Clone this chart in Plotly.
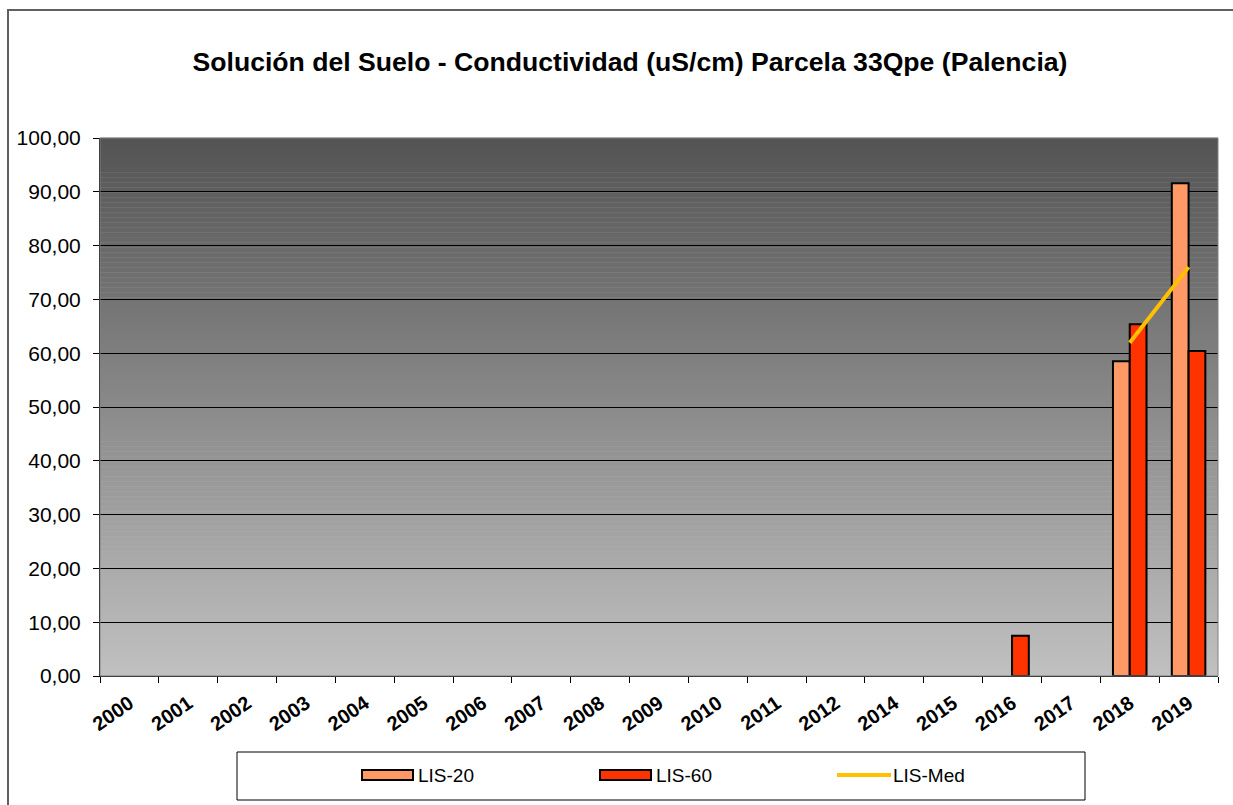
import plotly.graph_objects as go

# Sampling years (2013 has no campaign)
years = ["2000", "2001", "2002", "2003", "2004", "2005", "2006", "2007", "2008",
         "2009", "2010", "2011", "2012", "2014", "2015", "2016", "2017", "2018", "2019"]

# Conductivity (uS/cm) per depth
lis_20 = [None] * 17 + [58.5, 91.6]
lis_60 = [None] * 15 + [7.5, None, 65.4, 60.4]
lis_med = [None] * 17 + [61.95, 76.0]

y_ticks = [0, 10, 20, 30, 40, 50, 60, 70, 80, 90, 100]

COL_20 = "#FF9966"
COL_60 = "#FF3300"
COL_MED = "#FFC000"
FONT = "Arial, Liberation Sans, sans-serif"

W, H = 1233, 805
L, R, T, B = 100, 15, 138, 129
PW, PH = W - L - R, H - T - B


def px_x(x):
    return (x - L) / PW


def px_y(y):
    return (H - B - y) / PH


fig = go.Figure()

fig.add_trace(go.Bar(
    x=years, y=lis_20, name="LIS-20",
    marker=dict(color=COL_20, line=dict(color="black", width=2)),
    showlegend=False,
))
fig.add_trace(go.Bar(
    x=years, y=lis_60, name="LIS-60",
    marker=dict(color=COL_60, line=dict(color="black", width=2)),
    showlegend=False,
))
fig.add_trace(go.Scatter(
    x=years, y=lis_med, name="LIS-Med", mode="lines",
    line=dict(color=COL_MED, width=4), connectgaps=False,
    showlegend=False,
))

shapes = []

# vertical grey gradient behind the plot area
n_bands = 108
top_c, bot_c = 84, 192
for i in range(n_bands):
    f = i / (n_bands - 1)
    c = round(top_c + (bot_c - top_c) * f)
    shapes.append(dict(
        type="rect", xref="x domain", yref="y domain", layer="below",
        x0=0, x1=1, y0=1 - (i + 1) / n_bands, y1=1 - i / n_bands + 0.0005,
        fillcolor=f"rgb({c},{c},{c})", line=dict(width=0),
    ))

# plot area frame
shapes.append(dict(
    type="rect", xref="x domain", yref="y domain", layer="above",
    x0=0, x1=1, y0=0, y1=1, line=dict(color="#808080", width=1),
    fillcolor="rgba(0,0,0,0)",
))

# outer chart border (left and top edges)
shapes.append(dict(
    type="line", xref="paper", yref="paper", layer="above",
    x0=px_x(8), x1=px_x(8), y0=px_y(H + 5), y1=px_y(10),
    line=dict(color="#606060", width=2),
))
shapes.append(dict(
    type="line", xref="paper", yref="paper", layer="above",
    x0=px_x(7), x1=px_x(W + 5), y0=px_y(10), y1=px_y(10),
    line=dict(color="#606060", width=2),
))

# legend box
shapes.append(dict(
    type="rect", xref="paper", yref="paper",
    x0=px_x(237), x1=px_x(1085), y0=px_y(800), y1=px_y(752),
    line=dict(color="black", width=1), fillcolor="white",
))

legend_items = [
    ("LIS-20", "bar", COL_20, 362),
    ("LIS-60", "bar", COL_60, 600),
    ("LIS-Med", "line", COL_MED, 837),
]
annotations = []
ly = 775
for name, kind, col, x0 in legend_items:
    if kind == "bar":
        shapes.append(dict(
            type="rect", xref="paper", yref="paper",
            x0=px_x(x0), x1=px_x(x0 + 51), y0=px_y(ly + 5), y1=px_y(ly - 5),
            fillcolor=col, line=dict(color="black", width=2),
        ))
    else:
        shapes.append(dict(
            type="line", xref="paper", yref="paper",
            x0=px_x(x0), x1=px_x(x0 + 54), y0=px_y(ly), y1=px_y(ly),
            line=dict(color=col, width=4),
        ))
    annotations.append(dict(
        xref="paper", yref="paper", x=px_x(x0 + 54), y=px_y(ly),
        xanchor="left", yanchor="middle", showarrow=False,
        text=name, font=dict(family=FONT, size=19, color="black"),
    ))

fig.update_layout(
    width=W, height=H,
    margin=dict(l=L, r=R, t=T, b=B),
    paper_bgcolor="white",
    plot_bgcolor="#c0c0c0",
    barmode="group", bargap=0.43, bargroupgap=0,
    separators=",.",
    title=dict(
        text="<b>Solución del Suelo - Conductividad (uS/cm) Parcela 33Qpe (Palencia)</b>",
        x=630 / W, xref="container", xanchor="center",
        y=1 - 62 / H, yref="container", yanchor="middle",
        font=dict(family=FONT, size=26.6, color="black"),
    ),
    xaxis=dict(
        type="category", categoryorder="array", categoryarray=years,
        tickson="boundaries", ticks="outside", ticklen=6, tickcolor="black",
        showline=True, linecolor="black", linewidth=1,
        showgrid=False, tickangle=-35, ticklabelstandoff=7,
        tickfont=dict(family=FONT, size=20, color="black", weight="bold"),
    ),
    yaxis=dict(
        range=[0, 100], tickvals=y_ticks, tickformat=".2f",
        ticks="outside", ticklen=6, tickcolor="black",
        showline=True, linecolor="black", linewidth=1,
        showgrid=True, gridcolor="black", gridwidth=1,
        zeroline=False, ticklabelstandoff=8,
        tickfont=dict(family=FONT, size=21, color="black"),
    ),
    shapes=shapes,
    annotations=annotations,
    font=dict(family=FONT),
)

fig.write_html("out.html")
